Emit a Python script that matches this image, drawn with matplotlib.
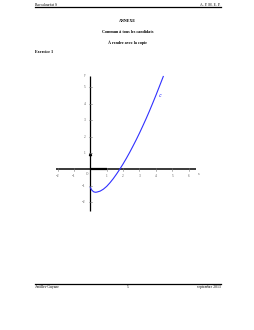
import matplotlib
matplotlib.use("Agg")
import matplotlib.pyplot as plt

# ---- data ----
curve_x = [0.0, 0.1, 0.2, 0.3, 0.4, 0.6, 0.8, 1.0, 1.2, 1.4, 1.6, 1.8, 2.0, 2.2,
           2.4, 2.6, 2.8, 3.0, 3.2, 3.4, 3.6, 3.8, 4.0, 4.2, 4.45]
curve_y = [-1.12, -1.28, -1.37, -1.40, -1.39, -1.33, -1.21, -1.04, -0.82, -0.57,
           -0.29, 0.01, 0.33, 0.67, 1.03, 1.41, 1.80, 2.21, 2.64, 3.08, 3.54,
           4.02, 4.51, 5.02, 5.66]
x_ticks = [-2, -1, 1, 2, 3, 4, 5, 6]
y_ticks = [-2, -1, 1, 2, 3, 4, 5]
header_left = "Baccalauréat S"
header_right = "A. P. M. E. P."
titles = ["ANNEXE", "Commun à tous les candidats", "À rendre avec la copie"]
exercise = "Exercice 1"
footer = ["Antilles-Guyane", "5", "septembre 2013"]
curve_label = r"$\mathcal{C}$"

plt.rcParams['font.family'] = ['Liberation Serif', 'DejaVu Serif']
W, H = 255, 330
fig = plt.figure(figsize=(W / 100, H / 100), dpi=100)

def fx(px):
    return px / W

def fy(py):
    return 1 - py / H

# header
fig.text(fx(35), fy(4.5), header_left, fontsize=2.7, ha='left', va='center')
fig.text(fx(221), fy(4.5), header_right, fontsize=2.7, ha='right', va='center')
fig.add_artist(plt.Line2D([fx(35), fx(221)], [fy(7), fy(7)], color='black', lw=0.9))
for t, py in zip(titles, [20.7, 32.3, 42.7]):
    fig.text(fx(127.5), fy(py), t, fontsize=3.0, ha='center', va='center', weight='bold')
fig.text(fx(35), fy(52.3), exercise, fontsize=3.0, ha='left', va='center', weight='bold')

# footer
fig.add_artist(plt.Line2D([fx(35), fx(221)], [fy(284.3), fy(284.3)], color='black', lw=0.9))
fig.text(fx(35), fy(287), footer[0], fontsize=2.7, ha='left', va='center')
fig.text(fx(128), fy(287), footer[1], fontsize=2.7, ha='center', va='center')
fig.text(fx(221), fy(287), footer[2], fontsize=2.7, ha='right', va='center')

# chart axes: origin at (90.3, 169.3) px, unit 16.4 px
ox, oy, u = 90.3, 169.3, 16.4
xmin, xmax, ymin, ymax = -2.2, 6.6, -2.7, 5.9
left = ox + xmin * u
right = ox + xmax * u
top = oy - ymax * u
bottom = oy - ymin * u
ax = fig.add_axes([fx(left), fy(bottom), (right - left) / W, (bottom - top) / H])
ax.set_xlim(xmin, xmax)
ax.set_ylim(ymin, ymax)
ax.axis('off')

# axes lines
ax.plot([-2.07, 6.45], [0, 0], color='#2a2a2a', lw=1.3, solid_capstyle='butt')
ax.plot([0, 0], [-2.56, 5.7], color='black', lw=0.9, solid_capstyle='butt')
# unit vectors
ax.plot([0, 1], [0, 0], color='black', lw=1.6, solid_capstyle='butt')
ax.plot([0], [0.92], marker='^', color='black', ms=1.6)

for t in x_ticks:
    ax.plot([t, t], [-0.1, 0.1], color='#777777', lw=0.4)
    ax.text(t, -0.28, str(t).replace('-', '\u2212'), fontsize=2.4, ha='center', va='top', color='#555555')
for t in y_ticks:
    ax.plot([-0.1, 0.1], [t, t], color='#777777', lw=0.4)
    ax.text(-0.3, t, str(t).replace('-', '\u2212'), fontsize=2.4, ha='right', va='center', color='#555555')
ax.text(-0.15, -0.15, "O", fontsize=2.4, ha='right', va='top', color='#555555')
ax.text(6.55, -0.15, "x", fontsize=2.4, ha='left', va='top', color='#555555')
ax.text(-0.3, 5.75, "y", fontsize=2.4, ha='right', va='center', color='#555555')

# curve
ax.plot(curve_x, curve_y, color='#3030ff', lw=0.8)
ax.text(4.15, 4.5, curve_label, fontsize=3, color='#3030ff', ha='left', va='center')

fig.savefig("out.png", dpi=100)
